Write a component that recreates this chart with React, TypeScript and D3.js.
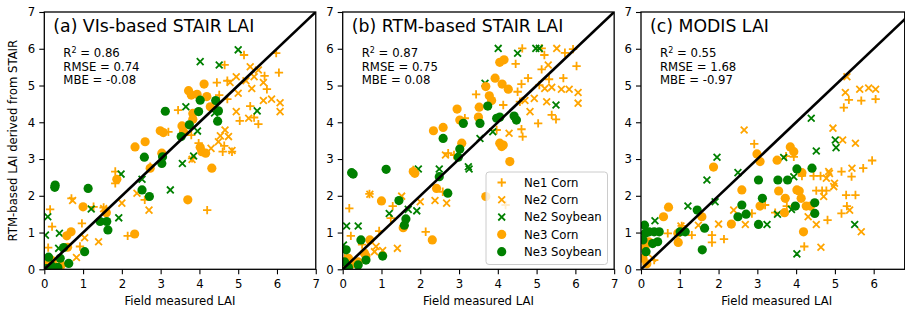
import { useEffect, useRef } from "react";
import * as d3 from "d3";

type Pt = [number, number];

// ---- data (field LAI, estimated LAI) ----
const seriesNames = ["Ne1 Corn", "Ne2 Corn", "Ne2 Soybean", "Ne3 Corn", "Ne3 Soybean"];
const panelTitles = ["(a) VIs-based STAIR LAI", "(b) RTM-based STAIR LAI", "(c) MODIS LAI"];
const r2Values = [0.86, 0.87, 0.55];
const rmseValues = [0.74, 0.75, 1.68];
const mbeValues = [-0.08, 0.08, -0.97];
const yTicks = [0, 1, 2, 3, 4, 5, 6, 7];
const xTicksAB = [0, 1, 2, 3, 4, 5, 6, 7];
const xTicksC = [0, 1, 2, 3, 4, 5, 6];

const aNe1Corn: Pt[] = [
  [4.65, 5.56], [5.15, 5.83], [5.98, 5.88], [6.05, 5.35], [5.68, 5.26], [4.45, 5.08], [4.72, 5.13],
  [5.74, 4.9], [4.51, 4.74], [4.72, 4.63], [3.45, 4.33], [5.31, 4.44], [5.04, 4.04], [5.41, 4.13],
  [5.52, 3.95], [3.2, 3.74], [3.79, 3.65], [3.98, 3.43], [4.64, 3.36], [4.6, 3.2], [4.84, 3.2],
  [2.73, 2.79], [3.81, 3.02], [1.83, 2.66], [1.83, 2.34], [2.59, 1.89], [4.2, 1.61], [0.15, 1.63],
  [0.2, 1.16], [0.1, 0.59], [0.7, 1.93], [1.27, 1.7], [0.97, 1.25], [0.92, 0.62], [2.15, 0.91],
  [1.53, 1.68], [0.05, 0.2], [0.3, 0.15],
];
const aNe2Corn: Pt[] = [
  [5.31, 5.51], [5.52, 5.42], [4.79, 5.08], [4.95, 5.24], [5.2, 5.13], [5.41, 5.24], [5.65, 5.08],
  [5.35, 4.92], [5.0, 4.79], [4.95, 4.29], [5.65, 4.59], [5.86, 4.63], [6.08, 4.53], [6.08, 4.29],
  [5.27, 4.11], [4.66, 3.79], [4.54, 3.63], [4.75, 3.61], [4.49, 3.47], [4.3, 3.29], [4.84, 3.23],
  [3.81, 2.99], [2.0, 1.8], [2.39, 2.07], [2.7, 1.61], [1.04, 0.86], [1.4, 0.75], [0.83, 0.32],
  [1.53, 1.65], [0.73, 1.87],
];
const aNe2Soybean: Pt[] = [
  [5.0, 5.97], [4.02, 5.65], [4.51, 5.56], [3.65, 4.42], [5.49, 4.31], [4.39, 4.25], [3.95, 3.76],
  [3.85, 3.08], [3.56, 2.88], [3.25, 2.16], [1.98, 2.59], [2.52, 2.45], [1.21, 1.64], [1.92, 1.4],
  [0.09, 1.43], [0.39, 0.98], [0.03, 0.93], [0.37, 0.57], [0.1, 0.05],
];
const aNe3Corn: Pt[] = [
  [4.12, 5.04], [3.72, 4.86], [3.79, 4.74], [3.94, 4.76], [4.19, 4.7], [4.28, 4.42], [3.83, 4.24],
  [3.83, 4.08], [3.55, 3.9], [3.59, 3.74], [2.99, 3.77], [3.07, 3.72], [2.6, 3.47], [2.34, 3.33],
  [4.02, 3.32], [4.06, 3.2], [4.16, 3.16], [3.03, 3.16], [4.32, 2.75], [2.73, 2.75], [1.87, 2.45],
  [3.7, 1.89], [1.0, 1.7], [1.6, 1.54], [2.33, 0.96], [0.69, 1.02], [0.58, 0.91], [0.18, 0.25],
  [0.44, 0.12], [0.05, 0.1], [0.3, 0.05], [0.6, 0.6],
];
const aNe3Soybean: Pt[] = [
  [3.12, 4.3], [4.02, 4.6], [4.42, 4.59], [3.98, 4.29], [4.49, 4.31], [4.47, 4.03], [3.74, 3.93],
  [3.53, 3.61], [3.03, 2.88], [3.05, 3.06], [2.58, 3.05], [0.28, 2.29], [0.27, 2.23], [1.13, 2.2],
  [2.52, 2.16], [2.71, 1.98], [1.44, 1.3], [1.61, 1.3], [1.64, 1.07], [1.04, 0.48], [0.5, 0.59],
  [0.41, 0.3], [0.11, 0.33], [0.63, 0.16], [0.2, 0.08], [0.05, 0.02], [0.35, 0.05],
];

const bNe1Corn: Pt[] = [
  [4.63, 6.01], [5.13, 6.01], [5.2, 5.83], [5.73, 5.89], [5.94, 5.99], [4.46, 5.59], [6.03, 5.53],
  [5.13, 5.44], [4.78, 5.2], [5.32, 5.17], [5.69, 5.2], [4.61, 5.04], [4.51, 4.83], [5.07, 5.01],
  [3.44, 4.76], [4.14, 4.47], [4.57, 4.56], [3.15, 4.11], [5.39, 4.2], [5.5, 4.08], [5.04, 3.97],
  [4.61, 3.81], [4.64, 3.61], [3.97, 3.79], [2.72, 3.16], [2.87, 3.11], [2.58, 2.11], [0.17, 1.66],
  [1.29, 1.72], [1.24, 1.39], [0.21, 0.91], [0.94, 1.04], [2.14, 1.02], [0.5, 0.67], [4.2, 1.75],
  [0.69, 2.05], [1.82, 2.7], [0.05, 0.3],
];
const bNe2Corn: Pt[] = [
  [5.52, 6.01], [5.3, 5.56], [5.21, 4.92], [5.39, 4.95], [5.64, 4.9], [5.84, 4.9], [6.07, 4.81],
  [4.94, 4.65], [4.7, 4.59], [5.26, 4.56], [6.07, 4.52], [4.83, 4.29], [4.29, 3.7], [2.65, 3.11],
  [2.68, 1.8], [2.38, 1.87], [2.0, 1.84], [1.52, 1.99], [0.7, 2.04], [0.86, 0.62], [1.03, 0.51],
  [1.41, 0.57], [0.82, 0.48],
];
const bNe2Soybean: Pt[] = [
  [4.01, 6.01], [4.51, 5.88], [4.98, 6.01], [5.07, 6.01], [3.67, 5.06], [5.5, 4.47], [3.87, 3.74],
  [3.54, 3.56], [3.24, 2.79], [1.95, 2.73], [2.49, 2.73], [3.26, 2.73], [1.2, 1.52], [1.69, 1.63],
  [1.91, 1.59], [0.1, 1.18], [0.4, 1.18], [0.02, 0.66],
];
const bNe3Corn: Pt[] = [
  [4.05, 5.63], [4.16, 5.7], [3.93, 5.2], [4.11, 5.04], [4.27, 4.9], [3.69, 4.97], [3.78, 4.72],
  [3.84, 4.59], [2.95, 4.36], [3.52, 4.41], [3.02, 4.06], [3.5, 4.14], [2.34, 3.77], [2.59, 3.86],
  [3.07, 3.43], [4.05, 3.43], [4.1, 3.34], [4.14, 3.38], [4.31, 2.93], [1.82, 2.66], [1.86, 2.61],
  [2.42, 2.2], [1.0, 1.86], [3.69, 1.98], [1.56, 1.13], [2.31, 0.8], [0.7, 0.8], [0.56, 0.44],
  [0.6, 0.36], [0.15, 0.3], [0.25, 0.15], [0.4, 0.2], [0.05, 0.1],
];
const bNe3Soybean: Pt[] = [
  [3.74, 4.44], [3.11, 3.97], [3.54, 3.97], [3.97, 4.11], [4.05, 4.14], [4.42, 4.17], [4.48, 4.06],
  [2.59, 3.56], [3.02, 3.27], [2.98, 3.05], [0.23, 2.63], [0.27, 2.59], [1.12, 2.72], [2.49, 2.52],
  [2.71, 2.07], [1.45, 1.87], [1.63, 1.37], [1.59, 1.2], [0.47, 0.8], [1.03, 0.36], [0.09, 0.53],
  [0.6, 0.25], [0.4, 0.12], [0.15, 0.05], [0.05, 0.2],
];

const cNe1Corn: Pt[] = [
  [5.36, 4.61], [5.68, 4.59], [6.05, 4.63], [5.23, 4.4], [2.92, 3.41], [3.94, 3.06], [5.17, 2.66],
  [5.73, 2.75], [5.43, 2.52], [5.96, 2.96], [4.15, 2.54], [4.45, 2.54], [4.63, 2.54], [4.52, 2.14],
  [4.67, 2.14], [4.78, 2.14], [5.29, 2.02], [5.53, 2.02], [3.2, 1.75], [5.31, 1.72], [5.17, 1.52],
  [4.81, 1.34], [3.76, 1.72], [3.46, 1.54], [2.86, 1.52], [1.83, 0.93], [2.14, 0.82], [1.83, 0.73],
  [1.05, 1.18], [1.31, 0.93], [0.69, 0.98], [4.21, 0.62], [0.34, 0.25], [3.74, 3.08],
];
const cNe2Corn: Pt[] = [
  [5.31, 5.24], [5.27, 4.81], [5.64, 4.9], [5.87, 4.93], [6.05, 4.9], [2.66, 3.79], [4.95, 3.84],
  [5.2, 3.52], [5.53, 3.43], [4.84, 2.66], [5.44, 2.75], [4.86, 2.61], [4.78, 2.48], [4.99, 2.34],
  [4.97, 2.25], [4.71, 1.98], [5.38, 1.61], [4.31, 1.43], [4.52, 1.22], [2.69, 1.22], [2.39, 1.61],
  [2.0, 1.23], [1.48, 1.2], [1.03, 1.18], [4.64, 0.6], [5.68, 1.02], [0.3, 0.3],
];
const cNe2Soybean: Pt[] = [
  [4.39, 4.11], [5.01, 3.52], [5.03, 3.31], [4.52, 3.22], [3.68, 3.04], [1.96, 3.05], [1.7, 2.43],
  [2.5, 2.63], [1.91, 1.84], [3.94, 2.52], [3.88, 1.63], [3.52, 1.5], [5.51, 1.22], [3.25, 1.22],
  [4.02, 0.42], [1.21, 1.72], [0.36, 1.32],
];
const cNe3Corn: Pt[] = [
  [3.85, 3.33], [3.94, 3.2], [2.99, 3.14], [3.07, 2.93], [3.51, 2.97], [4.15, 2.63], [1.87, 2.78],
  [3.55, 2.13], [4.02, 2.16], [4.08, 2.13], [2.6, 2.16], [3.72, 1.93], [4.13, 1.93], [3.07, 1.72],
  [4.26, 1.72], [4.37, 1.72], [3.7, 1.54], [2.33, 1.23], [1.57, 1.43], [0.71, 1.69], [0.58, 1.43],
  [0.96, 0.73], [0.95, 0.98], [4.19, 1.02], [0.1, 0.6], [0.05, 0.3], [0.2, 0.75], [0.15, 0.15],
];
const cNe3Soybean: Pt[] = [
  [4.02, 2.73], [4.41, 2.75], [3.03, 2.43], [3.53, 2.43], [3.78, 2.43], [3.13, 1.93], [3.98, 1.72],
  [4.48, 1.81], [4.48, 1.52], [3.03, 1.22], [2.6, 1.75], [2.71, 1.5], [2.5, 1.43], [1.45, 1.61],
  [1.64, 1.12], [1.58, 0.53], [1.01, 1.02], [1.14, 1.02], [0.09, 1.2], [0.11, 0.98], [0.21, 1.02],
  [0.34, 1.02], [0.47, 1.02], [0.43, 0.75], [0.13, 0.48], [0.3, 0.7], [0.05, 0.8],
];

const panelSeries: Pt[][][] = [
  [aNe1Corn, aNe2Corn, aNe2Soybean, aNe3Corn, aNe3Soybean],
  [bNe1Corn, bNe2Corn, bNe2Soybean, bNe3Corn, bNe3Soybean],
  [cNe1Corn, cNe2Corn, cNe2Soybean, cNe3Corn, cNe3Soybean],
];

// ---- layout / style ----
const W = 905;
const H = 310;
const TOP = 12;
const BOTTOM = 269.3;
const UNIT = 38.78;
const FONT = "DejaVu Sans, sans-serif";
const panelLayout = [
  { left: 44.3, xMax: 7, xTicks: xTicksAB },
  { left: 342.7, xMax: 7, xTicks: xTicksAB },
  { left: 641, xMax: 6.8, xTicks: xTicksC },
];
const seriesStyle = [
  { marker: "plus", color: "orange" },
  { marker: "x", color: "orange" },
  { marker: "x", color: "green" },
  { marker: "circle", color: "orange" },
  { marker: "circle", color: "green" },
];

const markerPath = (m: string) =>
  m === "plus" ? "M-4.2,0H4.2M0,-4.2V4.2" : "M-3.4,-3.4L3.4,3.4M-3.4,3.4L3.4,-3.4";

function drawMarker(g: any, m: string, color: string) {
  if (m === "circle") {
    g.append("circle").attr("r", 4.6).attr("fill", color);
  } else {
    g.append("path")
      .attr("d", markerPath(m))
      .attr("stroke", color)
      .attr("stroke-width", 1.8)
      .attr("fill", "none");
  }
}

export default function App() {
  const ref = useRef<SVGSVGElement | null>(null);

  useEffect(() => {
    if (!ref.current) return;
    const svg = d3.select(ref.current);
    svg.selectAll("*").remove();

    const y = d3.scaleLinear().domain([0, 7]).range([BOTTOM, TOP]);

    panelLayout.forEach((p, pi) => {
      const right = p.left + p.xMax * UNIT;
      const x = d3.scaleLinear().domain([0, p.xMax]).range([p.left, right]);
      const g = svg.append("g");

      g.append("clipPath")
        .attr("id", `clip${pi}`)
        .append("rect")
        .attr("x", p.left)
        .attr("y", TOP)
        .attr("width", right - p.left)
        .attr("height", BOTTOM - TOP);

      const plot = g.append("g").attr("clip-path", `url(#clip${pi})`);

      panelSeries[pi].forEach((pts, si) => {
        const st = seriesStyle[si];
        pts.forEach((d) => {
          const mg = plot
            .append("g")
            .attr("transform", `translate(${x(d[0])},${y(d[1])})`);
          drawMarker(mg, st.marker, st.color);
        });
      });

      plot
        .append("path")
        .datum([[0, 0], [7, 7]] as Pt[])
        .attr("fill", "none")
        .attr("stroke", "black")
        .attr("stroke-width", 2.6)
        .attr(
          "d",
          d3
            .line<Pt>()
            .x((d) => x(d[0]))
            .y((d) => y(d[1]))
        );

      // axes
      const xa = g
        .append("g")
        .attr("transform", `translate(0,${BOTTOM})`)
        .call(
          d3.axisBottom(x).tickValues(p.xTicks).tickFormat(d3.format("d")).tickSize(5).tickPadding(5)
        );
      const ya = g
        .append("g")
        .attr("transform", `translate(${p.left},0)`)
        .call(d3.axisLeft(y).tickValues(yTicks).tickFormat(d3.format("d")).tickSize(5).tickPadding(4));
      [xa, ya].forEach((a) => {
        a.select(".domain").remove();
        a.selectAll("line").attr("stroke", "black").attr("stroke-width", 1.1);
        a.selectAll("text").attr("font-family", FONT).attr("font-size", 11.7).attr("fill", "black");
      });

      g.append("rect")
        .attr("x", p.left)
        .attr("y", TOP)
        .attr("width", right - p.left)
        .attr("height", BOTTOM - TOP)
        .attr("fill", "none")
        .attr("stroke", "black")
        .attr("stroke-width", 1.3);

      g.append("text")
        .attr("x", p.left + 9)
        .attr("y", 32)
        .attr("font-family", FONT)
        .attr("font-size", 17.3)
        .text(panelTitles[pi]);

      const st = g
        .append("text")
        .attr("font-family", FONT)
        .attr("font-size", 11.7)
        .attr("x", p.left + 19);
      const l1 = st.append("tspan").attr("x", p.left + 19).attr("y", 57);
      l1.append("tspan").text("R");
      l1.append("tspan").attr("font-size", 8).attr("dy", -4.5).text("2");
      l1.append("tspan").attr("dy", 4.5).text(` = ${r2Values[pi].toFixed(2)}`);
      st.append("tspan").attr("x", p.left + 19).attr("y", 70.7).text(`RMSE = ${rmseValues[pi].toFixed(2)}`);
      st.append("tspan").attr("x", p.left + 19).attr("y", 84.2).text(`MBE = ${mbeValues[pi].toFixed(2)}`);

      g.append("text")
        .attr("x", (p.left + p.left + 7 * UNIT) / 2)
        .attr("y", 305)
        .attr("text-anchor", "middle")
        .attr("font-family", FONT)
        .attr("font-size", 11.7)
        .text("Field measured LAI");

      if (pi === 1) {
        const lg = g.append("g").attr("transform", "translate(486,172)");
        lg.append("rect")
          .attr("width", 121.5)
          .attr("height", 92.5)
          .attr("rx", 3)
          .attr("fill", "white")
          .attr("fill-opacity", 0.8)
          .attr("stroke", "#cccccc")
          .attr("stroke-width", 1);
        seriesNames.forEach((name, i) => {
          const row = lg.append("g").attr("transform", `translate(15.7,${10.5 + i * 17.3})`);
          drawMarker(row, seriesStyle[i].marker, seriesStyle[i].color);
          row
            .append("text")
            .attr("x", 22.3)
            .attr("dy", "0.35em")
            .attr("font-family", FONT)
            .attr("font-size", 11.7)
            .text(name);
        });
      }
    });

    svg
      .append("text")
      .attr("transform", `translate(13.3,${(TOP + BOTTOM) / 2}) rotate(-90)`)
      .attr("text-anchor", "middle")
      .attr("dy", "0.35em")
      .attr("font-family", FONT)
      .attr("font-size", 11.7)
      .text("RTM-based LAI derived from STAIR");
  }, []);

  return (
    <div style={{ position: "absolute", left: 0, top: 0, background: "white" }}>
      <svg ref={ref} width={W} height={H} style={{ display: "block" }}></svg>
    </div>
  );
}
